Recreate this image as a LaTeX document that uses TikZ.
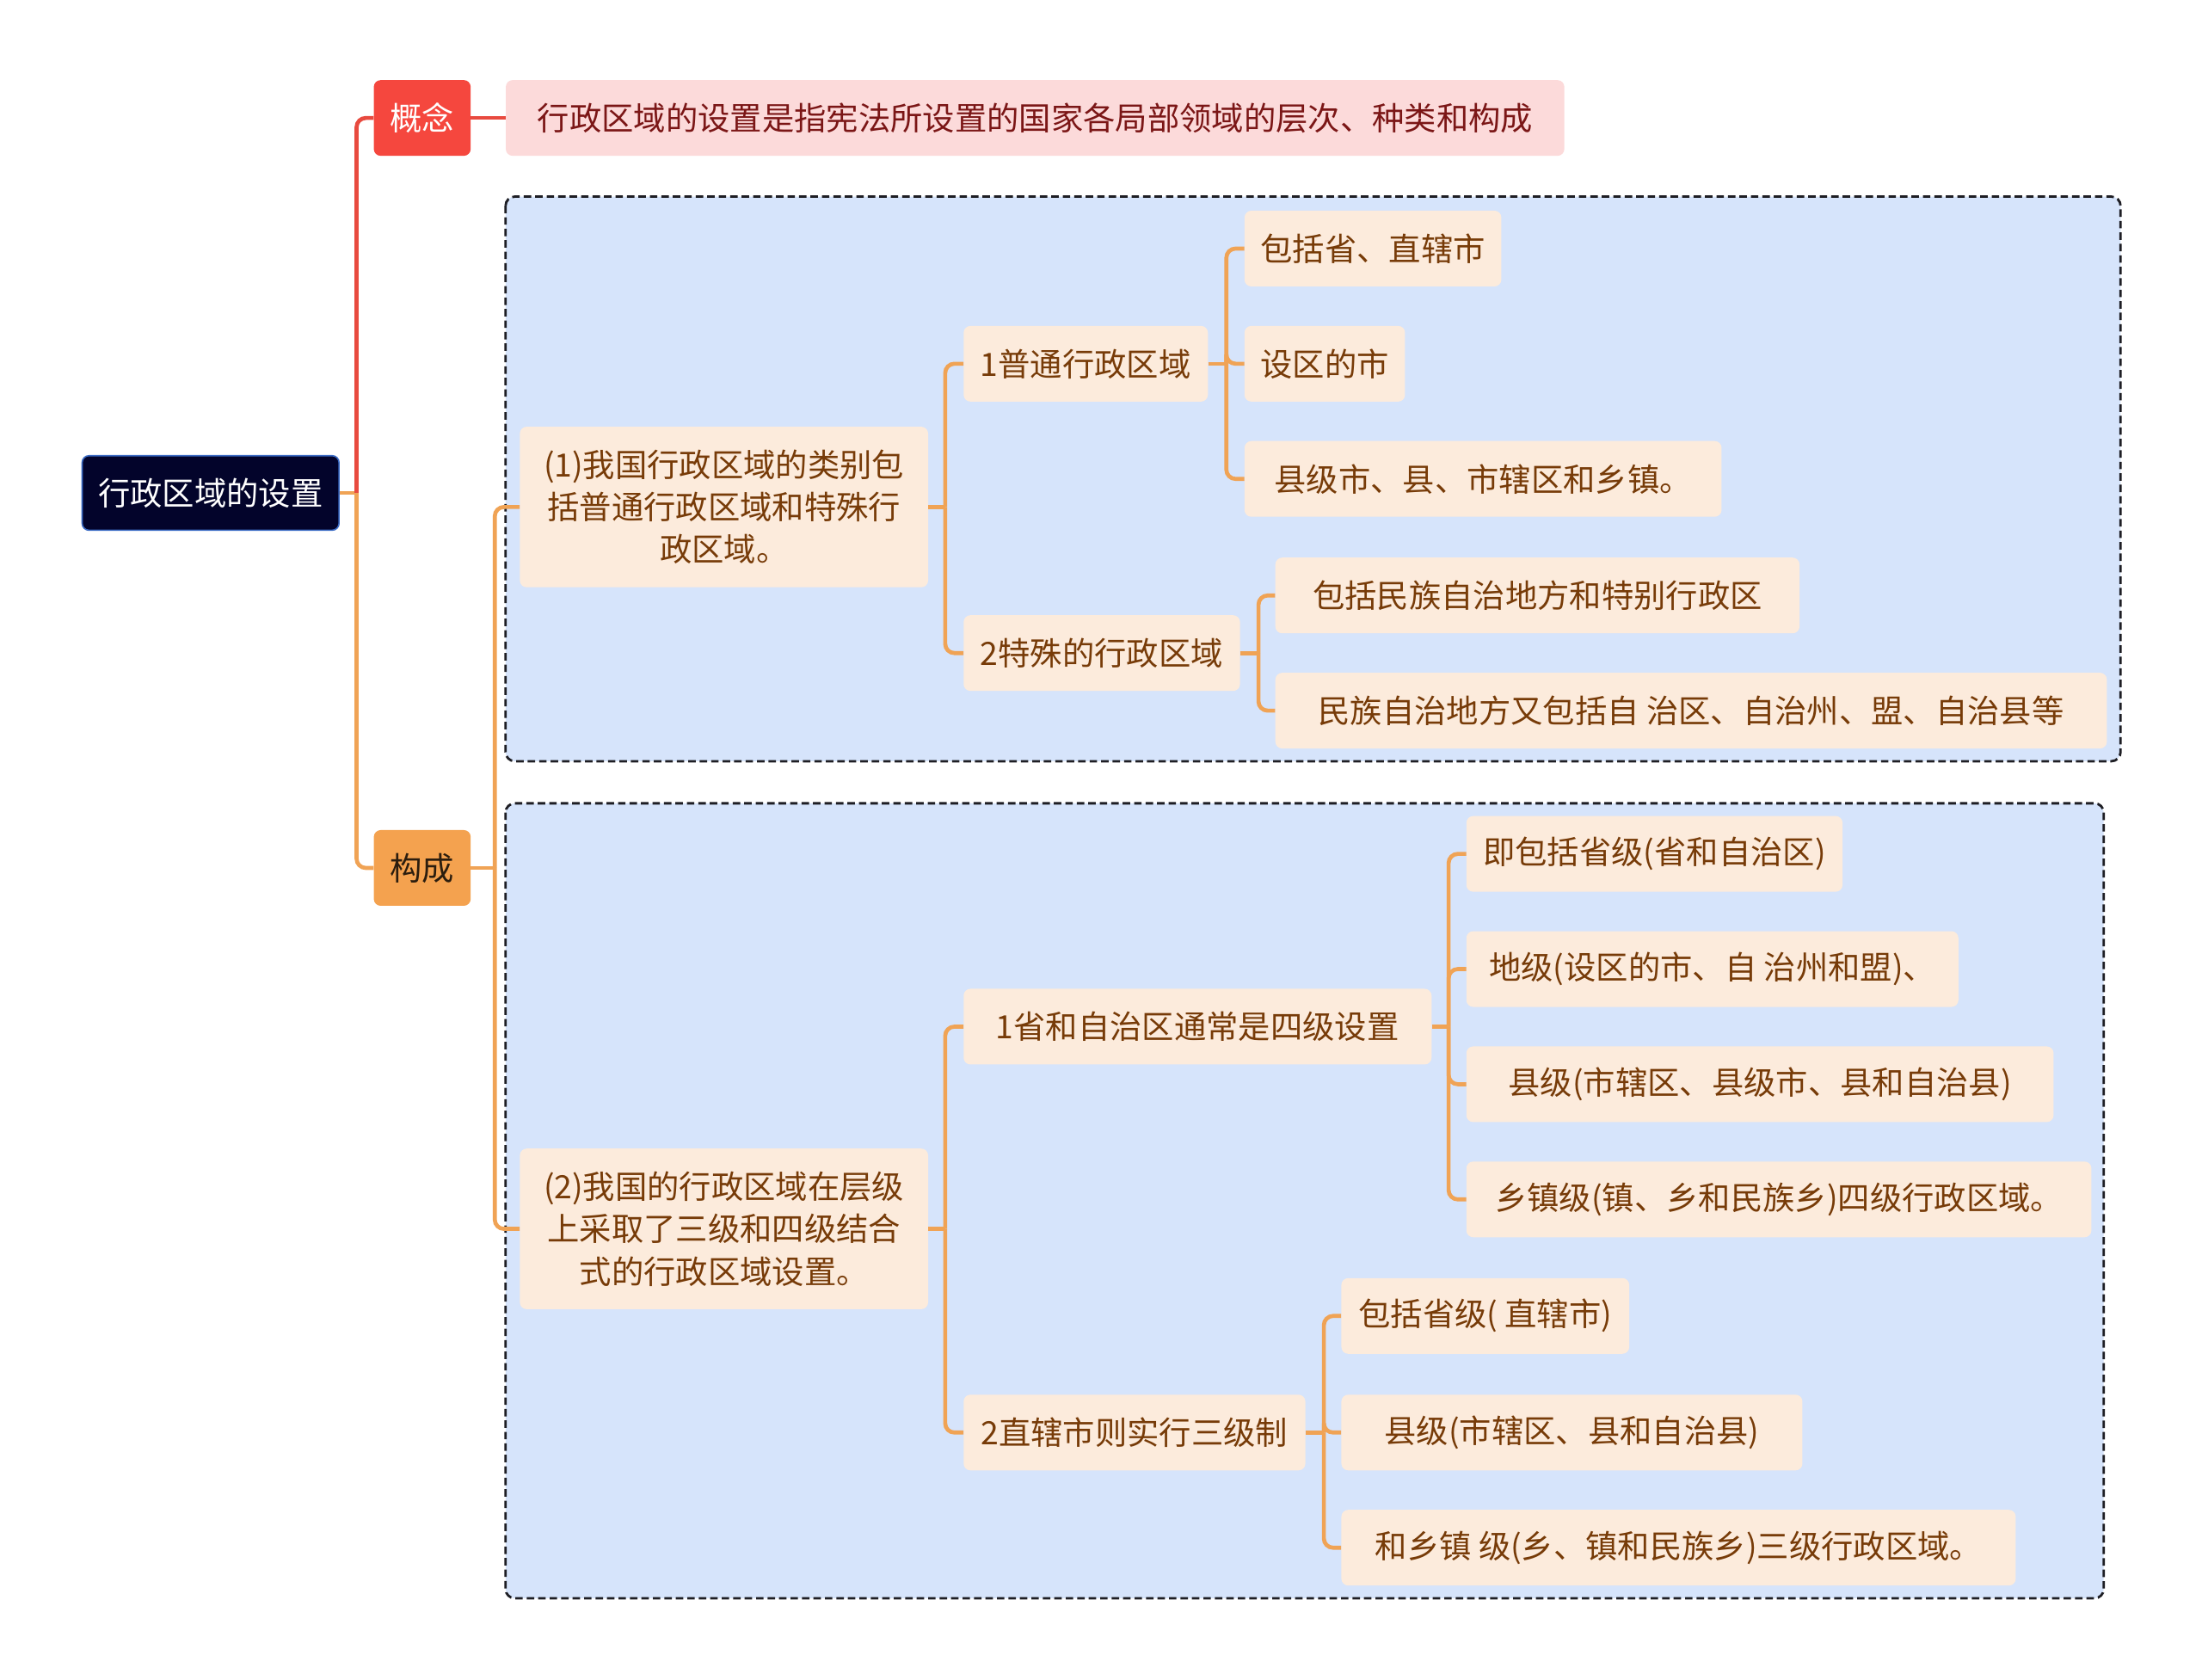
\documentclass[tikz,border=0pt]{standalone}
\usepackage{fontspec}
\newfontfamily\cjk{Noto Sans CJK SC}
\definecolor{rootfill}{HTML}{03042B}
\definecolor{rootdraw}{HTML}{3B6BC4}
\definecolor{redfill}{HTML}{F5473E}
\definecolor{pinkfill}{HTML}{FCDADA}
\definecolor{pinktext}{HTML}{7B1616}
\definecolor{orfill}{HTML}{F4A24F}
\definecolor{ortext}{HTML}{2B1D0E}
\definecolor{peach}{HTML}{FCEBDC}
\definecolor{leaftext}{HTML}{773B08}
\definecolor{groupfill}{HTML}{D6E4FB}
\definecolor{groupdraw}{HTML}{1E1E24}
\definecolor{redline}{HTML}{E84A3F}
\definecolor{orline}{HTML}{F0A355}
\tikzset{
  box/.style={rounded corners=6pt, inner sep=0pt, anchor=west, align=center,
    font=\cjk\fontsize{28}{37}\selectfont, minimum height=66pt},
  rootbox/.style={box, fill=rootfill, draw=rootdraw, line width=1.2pt, text=white, minimum height=65pt},
  redbox/.style={box, fill=redfill, text=white},
  pinkbox/.style={box, fill=pinkfill, text=pinktext},
  orbox/.style={box, fill=orfill, text=ortext},
  leaf/.style={box, fill=peach, text=leaftext},
  grp/.style={fill=groupfill, draw=groupdraw, line width=2.1pt, dash pattern=on 6.5pt off 3.5pt, rounded corners=8pt},
  rl/.style={draw=redline, line width=3.5pt},
  ol/.style={draw=orline, line width=3.5pt},
  rc/.style={rounded corners=8pt},
}
\begin{document}
\begin{tikzpicture}[x=1.2245pt,y=-1.2245pt]
\useasboundingbox (0,0) rectangle (1568,1196);
\fill[white] (0,0) rectangle (1568,1196);

% group frames
\path[grp] (360,140) rectangle (1510,542);
\path[grp] (360,572) rectangle (1498,1138);

% nodes
\node[rootbox, minimum width=224pt] (root) at (58,351) {行政区域的设置};
\node[redbox, minimum width=84.5pt] (gn) at (266,84) {概念};
\node[pinkbox, minimum width=923pt] (def) at (360,84) {行政区域的设置是指宪法所设置的国家各局部领域的层次、种类和构成};
\node[orbox, minimum width=84.5pt] (gc) at (266,618) {构成};

\node[leaf, minimum width=356pt, minimum height=140pt] (p1) at (370,361) {(1)我国行政区域的类别包\\括普通行政区域和特殊行\\政区域。};
\node[leaf, minimum width=213pt] (a) at (686,259) {1普通行政区域};
\node[leaf, minimum width=224pt] (a1) at (886,177) {包括省、直辖市};
\node[leaf, minimum width=140pt] (a2) at (886,259) {设区的市};
\node[leaf, minimum width=416pt] (a3) at (886,341) {县级市、县、市辖区和乡镇。};
\node[leaf, minimum width=241pt] (b) at (686,465) {2特殊的行政区域};
\node[leaf, minimum width=457pt] (b1) at (908,424) {包括民族自治地方和特别行政区};
\node[leaf, minimum width=725pt] (b2) at (908,506) {民族自治地方又包括自 治区、自治州、盟、自治县等};

\node[leaf, minimum width=356pt, minimum height=140pt] (p2) at (370,875) {(2)我国的行政区域在层级\\上采取了三级和四级结合\\式的行政区域设置。};
\node[leaf, minimum width=408pt] (c) at (686,731) {1省和自治区通常是四级设置};
\node[leaf, minimum width=328pt] (c1) at (1044,608) {即包括省级(省和自治区)};
\node[leaf, minimum width=429pt] (c2) at (1044,690) {地级(设区的市、自 治州和盟)、};
\node[leaf, minimum width=512pt] (c3) at (1044,772) {县级(市辖区、县级市、县和自治县)};
\node[leaf, minimum width=545pt] (c4) at (1044,854) {乡镇级(镇、乡和民族乡)四级行政区域。};
\node[leaf, minimum width=298pt] (d) at (686,1020) {2直辖市则实行三级制};
\node[leaf, minimum width=251pt] (d1) at (955,937) {包括省级( 直辖市)};
\node[leaf, minimum width=402pt] (d2) at (955,1020) {县级(市辖区、县和自治县)};
\node[leaf, minimum width=588pt] (d3) at (955,1102) {和乡镇 级(乡、镇和民族乡)三级行政区域。};

% junction coordinates
\path (root.east) ++(12,0) coordinate (jr);
\path (gc.east) ++(17,0) coordinate (jgc);
\path (p1.east) ++(12,0) coordinate (jp1);
\path (a.east) ++(13,0) coordinate (ja);
\path (b.east) ++(13,0) coordinate (jb);
\path (p2.east) ++(12,0) coordinate (jp2);
\path (c.east) ++(12,0) coordinate (jc);
\path (d.east) ++(13,0) coordinate (jd);

% connectors
\draw[ol] (root.east) -- (jr);
\draw[rl, rc] (jr) |- (gn.west);
\draw[ol, rc] (jr) |- (gc.west);
\draw[rl] (gn.east) -- (def.west);

\draw[ol] (gc.east) -- (jgc);
\draw[ol, rc] (jgc) |- (p1.west);
\draw[ol, rc] (jgc) |- (p2.west);

\draw[ol] (p1.east) -- (jp1);
\draw[ol, rc] (jp1) |- (a.west);
\draw[ol, rc] (jp1) |- (b.west);

\draw[ol] (a.east) -- (ja);
\draw[ol, rc] (ja) |- (a1.west);
\draw[ol, rc] (ja) |- (a2.west);
\draw[ol, rc] (ja) |- (a3.west);

\draw[ol] (b.east) -- (jb);
\draw[ol, rc] (jb) |- (b1.west);
\draw[ol, rc] (jb) |- (b2.west);

\draw[ol] (p2.east) -- (jp2);
\draw[ol, rc] (jp2) |- (c.west);
\draw[ol, rc] (jp2) |- (d.west);

\draw[ol] (c.east) -- (jc);
\draw[ol, rc] (jc) |- (c1.west);
\draw[ol, rc] (jc) |- (c2.west);
\draw[ol, rc] (jc) |- (c3.west);
\draw[ol, rc] (jc) |- (c4.west);

\draw[ol] (d.east) -- (jd);
\draw[ol, rc] (jd) |- (d1.west);
\draw[ol, rc] (jd) |- (d2.west);
\draw[ol, rc] (jd) |- (d3.west);
\end{tikzpicture}
\end{document}
